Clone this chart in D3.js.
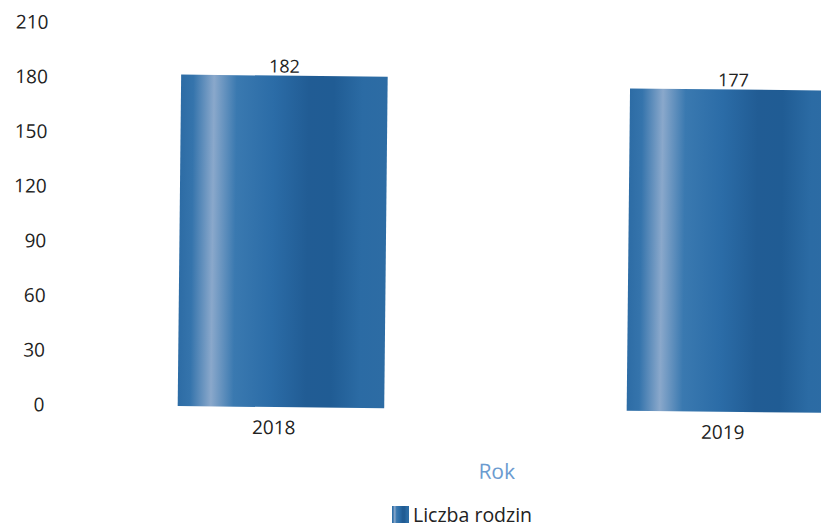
<!DOCTYPE html>
<html>
<head>
<meta charset="utf-8">
<script src="https://cdn.jsdelivr.net/npm/d3@7"></script>
<style>
  html, body { margin: 0; padding: 0; background: #fff; overflow: hidden; }
  svg { display: block; font-family: "Open Sans", sans-serif; }
</style>
</head>
<body>
<div id="chart"></div>
<script>
// chart data
var years = ['2018', '2019'];
var families = [182, 177];
var yTicks = [0, 30, 60, 90, 120, 150, 180, 210];
var seriesName = 'Liczba rodzin';
var axisTitle = 'Rok';

var w = 821,
    h = 527;

var svg = d3.select('#chart').append('svg')
    .attr('width', w)
    .attr('height', h);

// bar gradient (the shiny look of the printed chart)
var grad = svg.append('defs').append('linearGradient')
    .attr('id', 'barGrad')
    .attr('x1', '0%').attr('x2', '100%')
    .attr('y1', '0%').attr('y2', '0%');
[[0, '#2d6ca5'], [0.06, '#3574ac'], [0.16, '#8aa8cb'], [0.27, '#3a79b0'],
 [0.45, '#2b6ca7'], [0.62, '#215c94'], [0.74, '#205c94'], [0.88, '#2b6ba4'], [1, '#2d6ca4']]
  .forEach(function(s) {
    grad.append('stop').attr('offset', s[0]).attr('stop-color', s[1]);
  });

// the scan is a little tilted, so the whole chart is turned slightly
var vis = svg.append('g')
    .attr('transform', 'rotate(0.6, 410, 260)');

var x = d3.scaleBand()
    .domain(years)
    .range([58, 956])
    .paddingInner(0.54)
    .paddingOuter(0.27);

var y = d3.scaleLinear()
    .domain([0, 210])
    .range([408.5, 26]);

// y axis labels only, no lines
var yAxis = d3.axisLeft(y).tickValues(yTicks).tickSize(0).tickPadding(0);
var gy = vis.append('g')
    .attr('transform', 'translate(46,0)')
    .call(yAxis);
gy.select('.domain').remove();
gy.selectAll('text')
    .attr('font-size', 19)
    .attr('font-family', '"Open Sans", sans-serif')
    .attr('fill', '#222');

// bars
vis.selectAll('rect.bar')
    .data(families)
  .enter().append('rect')
    .attr('class', 'bar')
    .attr('x', function(d, i) { return x(years[i]); })
    .attr('y', function(d) { return y(d); })
    .attr('width', x.bandwidth())
    .attr('height', function(d) { return y(0) - y(d); })
    .attr('fill', 'url(#barGrad)');

// value labels
vis.selectAll('text.val')
    .data(families)
  .enter().append('text')
    .attr('class', 'val')
    .attr('x', function(d, i) { return x(years[i]) + x.bandwidth() / 2; })
    .attr('y', function(d) { return y(d) - 3; })
    .attr('text-anchor', 'middle')
    .attr('font-size', 18)
    .attr('fill', '#222')
    .text(function(d) { return d; });

// x axis labels (sit a little left of the bar centres in the print)
var xAxis = d3.axisBottom(x).tickSize(0).tickPadding(0);
var gx = vis.append('g')
    .attr('transform', 'translate(-7,' + (y(0) + 10) + ')')
    .call(xAxis);
gx.select('.domain').remove();
gx.selectAll('text')
    .attr('font-size', 19)
    .attr('font-family', '"Open Sans", sans-serif')
    .attr('fill', '#222')
    .attr('dy', '0.9em');

vis.append('text')
    .attr('x', 499)
    .attr('y', 478)
    .attr('text-anchor', 'middle')
    .attr('font-size', 21)
    .attr('fill', '#6b9bd0')
    .text(axisTitle);

// legend
var leg = svg.append('g').attr('transform', 'translate(392,506)');
leg.append('rect')
    .attr('width', 17)
    .attr('height', 17)
    .attr('fill', 'url(#barGrad)');
leg.append('text')
    .attr('x', 21)
    .attr('y', 16)
    .attr('font-size', 19.5)
    .attr('fill', '#222')
    .text(seriesName);
</script>
</body>
</html>
